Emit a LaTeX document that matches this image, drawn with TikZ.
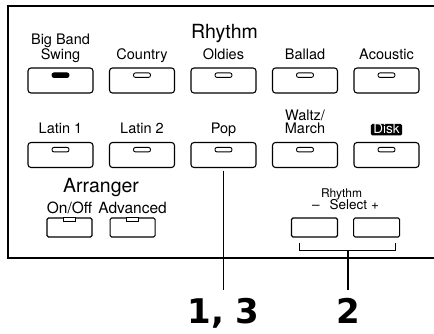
\documentclass[tikz,border=0pt]{standalone}
\usepackage{fontspec}
\setmainfont{TeX Gyre Heros}
\newfontfamily\stepfont{DejaVu Sans}
\usetikzlibrary{positioning,calc}

\begin{document}
\begin{tikzpicture}[
  x=1pt, y=-1pt, node distance=8pt and 15.4pt, line width=1.1pt,
  btn/.style={draw, rounded corners=3pt, minimum width=65pt, minimum height=25pt, inner sep=0pt},
  smallbtn/.style={draw, rounded corners=1.5pt, minimum width=45pt, minimum height=19pt, inner sep=0pt},
  lamp/.style={draw, fill=white, rounded corners=2pt, minimum width=17pt, minimum height=4.5pt, inner sep=0pt, line width=0.9pt},
  notch/.style={draw, fill=white, minimum width=12pt, minimum height=4pt, inner sep=0pt, outer sep=0pt, line width=0.9pt},
  lbl/.style={font=\fontsize{14.5}{15}\selectfont, align=center, inner sep=0pt, outer sep=0pt, text depth=0pt},
  title/.style={font=\fontsize{19.5}{20}\selectfont, inner sep=0pt, outer sep=0pt, anchor=base},
  smalltxt/.style={font=\fontsize{12}{12}\selectfont, inner sep=0pt, outer sep=0pt, anchor=base},
  stepno/.style={font=\stepfont\bfseries\fontsize{34}{34}\selectfont, inner sep=0pt, outer sep=0pt, anchor=base},
]
  \useasboundingbox (0,0) rectangle (434,333);
  % panel edge
  \draw[line width=1.5pt] (434,6) -| (8,258) -- (434,258);

  % rhythm buttons
  \node[btn] (bigband) at (60.5,80.5) {};
  \node[btn, right=of bigband] (country) {};
  \node[btn, right=of country] (oldies) {};
  \node[btn, right=of oldies] (ballad) {};
  \node[btn, right=of ballad] (acoustic) {};
  \node[btn, below=48.4pt of bigband] (latin1) {};
  \node[btn, right=of latin1] (latin2) {};
  \node[btn, right=of latin2] (pop) {};
  \node[btn, right=of pop] (waltz) {};
  \node[btn, right=of waltz] (disk) {};
  \node[lamp, fill=black, below=5pt of bigband.north] (bigband-lamp) {};
  \foreach \b in {country,oldies,ballad,acoustic,latin1,latin2,pop,waltz,disk}
    \node[lamp, below=5pt of \b.north] (\b-lamp) {};

  \node[lbl, above=of bigband] (bigbandtxt) {Big Band\\Swing};
  \node[lbl, above=of country] (countrytxt) {Country};
  \node[lbl, above=of oldies] (oldiestxt) {Oldies};
  \node[lbl, above=of ballad] (balladtxt) {Ballad};
  \node[lbl, above=of acoustic] (acoustictxt) {Acoustic};
  \node[lbl, above=of latin1] (latin1txt) {Latin 1};
  \node[lbl, above=of latin2] (latin2txt) {Latin 2};
  \node[lbl, above=of pop] (poptxt) {Pop};
  \node[lbl, above=of waltz] (waltztxt) {Waltz/\\[-2pt]March};
  \node[fill=black, text=white, font=\fontsize{13.5}{13.5}\selectfont, rounded corners=1.5pt,
    inner xsep=2.5pt, inner ysep=1pt, text height=9pt, text depth=0.5pt, above=6pt of disk] (disktxt) {Disk};
  \node[title] (rhythm) at ([xshift=1pt]oldies.north |- 0,38) {Rhythm};

  % arranger
  \node[smallbtn] (onoff) at (69.5,227.5) {};
  \node[smallbtn, right=17pt of onoff] (advanced) {};
  \node[notch, anchor=north] (onoff-lamp) at (onoff.north) {};
  \node[notch, anchor=north] (advanced-lamp) at (advanced.north) {};
  \node[lbl, font=\fontsize{15.5}{15.5}\selectfont, above=4pt of onoff] (onofftxt) {On/Off};
  \node[lbl, font=\fontsize{15.5}{15.5}\selectfont, above=4pt of advanced] (advancedtxt) {Advanced};
  \node[title] (arranger) at ($(onoff.north)!0.5!(advanced.north) + (0,-25)$) {Arranger};

  % rhythm select
  \node[smallbtn, minimum width=46pt] (selminus) at (314.5,227.5) {};
  \node[smallbtn, minimum width=46pt, right=15pt of selminus] (selplus) {};
  \node[smalltxt, font=\fontsize{13.5}{13.5}\selectfont] (seltxt) at ($(selminus.north)!0.5!(selplus.north) + (0,-8)$) {–\hspace{10pt}Select\hspace{4pt}+};
  \node[smalltxt] (rhythmsel) at ($(seltxt.base) + (-4,-12)$) {Rhythm};
  \draw[line width=1pt] ([xshift=9pt,yshift=-5pt]selminus.south west) -- ++(0,8)
    -| ([xshift=-5pt,yshift=-5pt]selplus.south east);
  \coordinate (brk) at ($(selminus.south)!0.5!(selplus.south) + (2.5,13)$);

  % step numbers
  \node[stepno] (one) at (pop |- 0,323) {1, 3};
  \node[stepno] (two) at (brk |- 0,323) {2};
  \draw[line width=1.2pt, shorten <=2.5pt, shorten >=8pt] (pop) -- (one);
  \draw[line width=1.2pt, shorten >=8pt] (brk) -- (two);
\end{tikzpicture}
\end{document}
